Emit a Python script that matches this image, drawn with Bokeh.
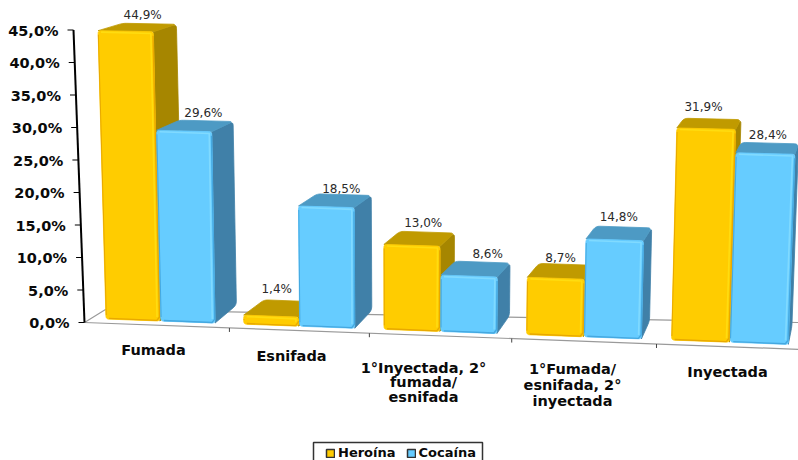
from bokeh.plotting import figure
from bokeh.models import Range1d, Legend, LegendItem, ColumnDataSource
from bokeh.embed import file_html
from bokeh.resources import INLINE
from bokeh.core.properties import value

categories = ["Fumada", "Esnifada", "1°Inyectada, 2°\nfumada/\nesnifada",
              "1°Fumada/\nesnifada, 2°\ninyectada", "Inyectada"]
heroina = [44.9, 1.4, 13.0, 8.7, 31.9]
cocaina = [29.6, 18.5, 8.6, 14.8, 28.4]
ticks = [0, 5, 10, 15, 20, 25, 30, 35, 40, 45]

# hand-tuned placement of annotation text
value_nudge = [((-7, 0), (-3, 1)), ((-14, -3), (-3, 3)), ((-4, -1), (5, 0)),
               ((-6, 2), (-5, -1)), ((-9, -3), (-2, 0))]
cat_anchor = [(153, 349), (291, 355), (423, 367), (572, 368), (727, 371)]
cat_leading = [0, 0, 14.5, 16, 0]


def fmt(v):
    return f"{v:.1f}".replace(".", ",") + "%"


# --- perspective projection of the floor / value axes onto the page
def floor_x(t):
    return 105 + 136.6 * t + 1.2 * t * t


def floor_y(x):
    return 318.5 + 0.0372 * (x - 105)


def scale_y(x):
    return 6.42 + 0.0004 * (x - 100)


def lean(x):
    return 0.0006 * (x - 400)


def depth_x(x):
    return 28 - 0.031 * x


def depth_y(v):
    return 15.5 - 0.18 * v


FLOOR_DEPTH = 18
BAR = 0.4


def top_point(x, v):
    return x + lean(x) * v, floor_y(x) - scale_y(x) * v


def round_poly(pts, r, corners=None):
    """Replace chosen corners of a polygon by a short curve of radius about r."""
    n = len(pts)
    out_x, out_y = [], []
    for k in range(n):
        px, py = pts[k]
        if corners is not None and k not in corners:
            out_x.append(px)
            out_y.append(py)
            continue
        ax, ay = pts[k - 1]
        bx, by = pts[(k + 1) % n]
        la = max(((ax - px) ** 2 + (ay - py) ** 2) ** 0.5, 1e-6)
        lb = max(((bx - px) ** 2 + (by - py) ** 2) ** 0.5, 1e-6)
        ra = min(r, la / 2)
        rb = min(r, lb / 2)
        p0 = (px + (ax - px) * ra / la, py + (ay - py) * ra / la)
        p2 = (px + (bx - px) * rb / lb, py + (by - py) * rb / lb)
        for s in (0, 0.25, 0.5, 0.75, 1):
            out_x.append((1 - s) ** 2 * p0[0] + 2 * s * (1 - s) * px + s ** 2 * p2[0])
            out_y.append((1 - s) ** 2 * p0[1] + 2 * s * (1 - s) * py + s ** 2 * p2[1])
    return out_x, out_y


GOLD = dict(front="#FFCC00", top="#C09A00", side="#A68600", edge="#E8A800", hi="#FFDC10")
BLUE = dict(front="#66CCFF", top="#4D9AC4", side="#4080A8", edge="#45A8E0", hi="#80DAFF")

p = figure(width=798, height=460, x_range=Range1d(0, 798), y_range=Range1d(460, 0),
           toolbar_location=None, output_backend="svg", min_border=0,
           x_axis_location=None, y_axis_location=None, outline_line_color=None)
p.grid.visible = False
p.background_fill_color = "white"
p.border_fill_color = "white"

# floor
ax0 = (84, 322)
ax1 = (73, 29.5)
p.multi_line(
    [[ax0[0], 798], [ax0[0], 105, 798]],
    [[ax0[1], ax0[1] + 0.0376 * (798 - ax0[0])], [ax0[1], 309, 322]],
    line_color="#9A9A9A", line_width=1.2)
div_x = [floor_x(i + 0.9) for i in range(4)]
p.segment(div_x, [ax0[1] + 0.0376 * (x - ax0[0]) for x in div_x],
          div_x, [ax0[1] + 0.0376 * (x - ax0[0]) + 4 for x in div_x],
          line_color="#444444", line_width=1)

# value axis
p.line([ax0[0], ax1[0]], [ax0[1], ax1[1]], line_color="black", line_width=2)
tx = [ax0[0] + (ax1[0] - ax0[0]) * t / 45 for t in ticks]
ty = [ax0[1] + (ax1[1] - ax0[1]) * t / 45 for t in ticks]
p.segment([x - 6 for x in tx], ty, tx, ty, line_color="black", line_width=1.2)
p.text([x - 15 for x in tx], [y + 0.5 for y in ty], text=[fmt(t) for t in ticks],
       text_font=value("DejaVu Sans"), text_font_style="bold", text_font_size="14.5px",
       text_align="right", text_baseline="middle", text_color="#0A0A0A")

# bars, drawn left to right so nearer bars cover farther ones
lab_x, lab_y, lab_t = [], [], []
for i, cat in enumerate(categories):
    for j, (vals, col) in enumerate(((heroina, GOLD), (cocaina, BLUE))):
        v = vals[i]
        xl = floor_x(i + j * BAR) + 0.5
        xr = floor_x(i + (j + 1) * BAR) - 0.5
        ybl, ybr = floor_y(xl), floor_y(xr)
        tlx, tly = top_point(xl, v)
        trx, try_ = top_point(xr, v)
        dxl, dxr = depth_x(xl), depth_x(xr)
        dyt = depth_y(v)

        side = [(trx, try_), (trx + dxr, try_ - dyt), (xr + dxr, ybr - FLOOR_DEPTH), (xr, ybr)]
        top = [(tlx, tly), (tlx + dxl, tly - dyt), (trx + dxr, try_ - dyt), (trx, try_)]
        front = [(tlx, tly), (trx, try_), (xr, ybr), (xl, ybl)]
        faces = [round_poly(side, 4, {1, 2}), round_poly(top, 4, {1, 2}), round_poly(front, 3)]
        src = ColumnDataSource(dict(xs=[f[0] for f in faces], ys=[f[1] for f in faces],
                                    fill=[col["side"], col["top"], col["front"]]))
        p.patches("xs", "ys", source=src, fill_color="fill", line_color="fill", line_width=0.8)

        # soft rims of the front face
        p.line([xl + 3, xr - 3, xr - 0.3, trx - 0.3],
               [ybl - 0.6, ybr - 0.6, ybr - 4, try_ + 4],
               line_color=col["edge"], line_width=1.4, line_join="round")
        p.line([tlx + 0.3, xl + 0.3], [tly + 4, ybl - 4], line_color=col["edge"], line_width=1)
        p.line([tlx + 3, trx - 2.5, xr - 2.8],
               [tly + 1.5, try_ + 1.8, ybr - 4],
               line_color=col["hi"], line_width=1.6, line_join="round")

        nx, ny = value_nudge[i][j]
        lab_x.append((tlx + trx + dxl + dxr) / 2 + nx)
        lab_y.append((tly + try_) / 2 - dyt - 8.5 + ny)
        lab_t.append(fmt(v))

p.text(lab_x, lab_y, text=lab_t, text_font=value("DejaVu Sans"), text_font_size="12px",
       text_align="center", text_baseline="middle", text_color="#2A2A2A")

# category labels
cx, cy, ct = [], [], []
for cat, (ax, ay), lead in zip(categories, cat_anchor, cat_leading):
    for n, line in enumerate(cat.split("\n")):
        cx.append(ax)
        cy.append(ay + n * lead)
        ct.append(line)
p.text(cx, cy, text=ct, text_font=value("DejaVu Sans"), text_font_style="bold",
       text_font_size="14.5px", text_align="center", text_baseline="middle", text_color="#0A0A0A")

# legend frame (open at the foot of the page, as in the source) and keys
p.quad(left=[313], right=[482], top=[442], bottom=[470], fill_color="white",
       line_color="#333333", line_width=1.5)
r1 = p.quad(left=[-60], right=[-50], top=[-60], bottom=[-50], fill_color=GOLD["front"], line_color="#333333", line_width=1.5)
r2 = p.quad(left=[-60], right=[-50], top=[-60], bottom=[-50], fill_color=BLUE["front"], line_color="#333333", line_width=1.5)
legend = Legend(items=[LegendItem(label="Heroína", renderers=[r1]), LegendItem(label="Cocaína", renderers=[r2])],
                orientation="horizontal", location=(325, 0), spacing=10, padding=3, margin=0,
                glyph_width=10, glyph_height=10, label_standoff=3,
                label_text_font="DejaVu Sans", label_text_font_style="bold", label_text_font_size="13px",
                label_text_color="#0A0A0A", border_line_color=None, background_fill_alpha=0)
p.add_layout(legend, "center")

open("out.html", "w").write(file_html(p, INLINE))
